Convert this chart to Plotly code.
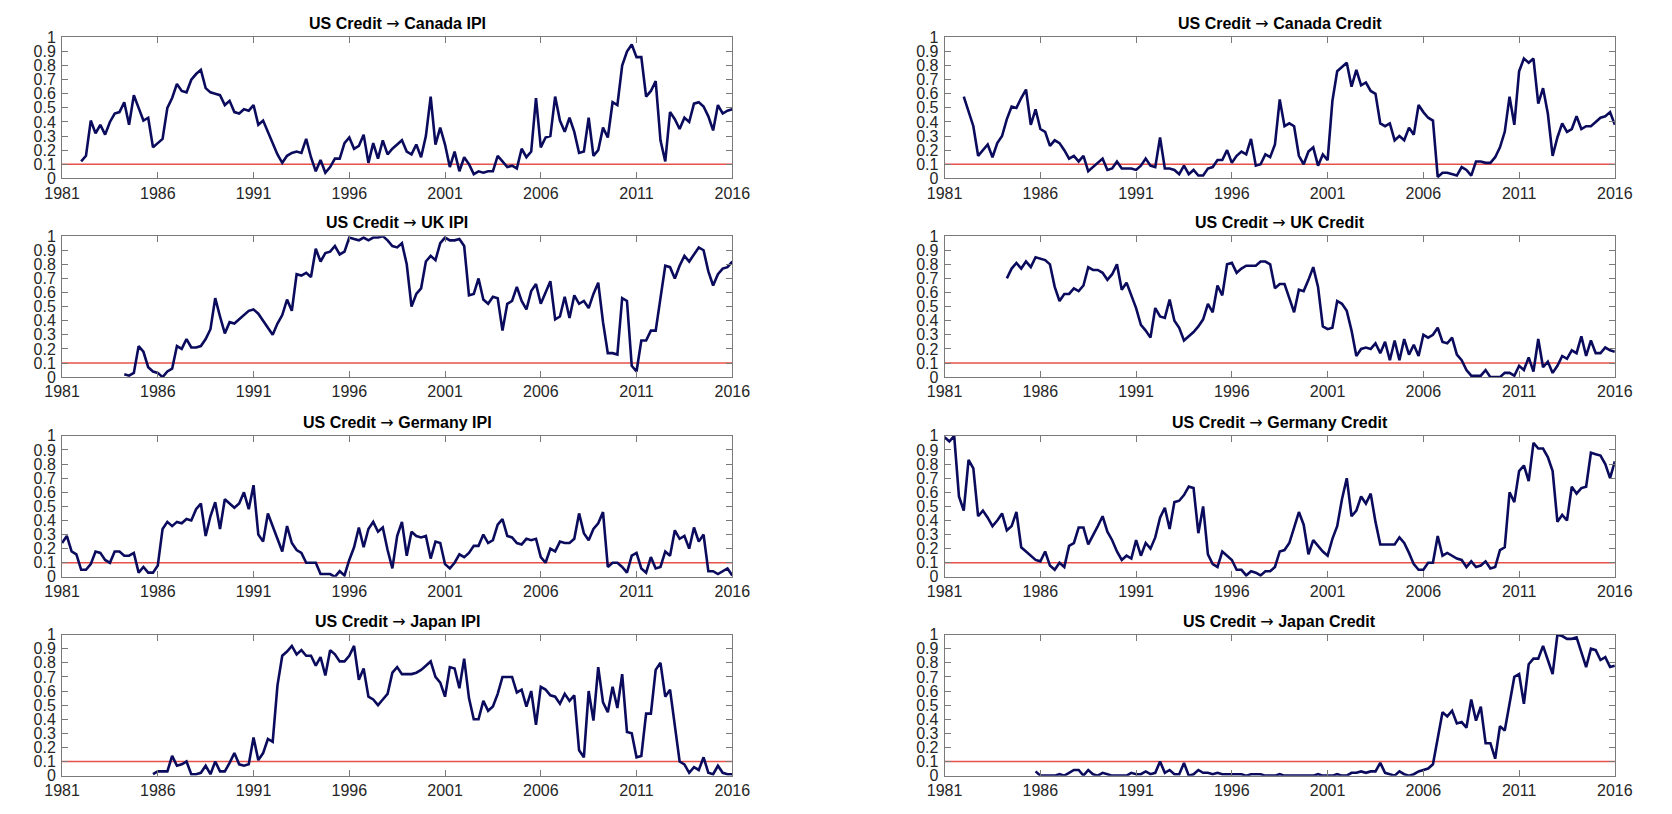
import plotly.graph_objects as go

# ---------------------------------------------------------------
# Quarterly probabilities, one row per calendar year
# ---------------------------------------------------------------
canada_ipi_start = 1982.0
canada_ipi = [
    0.12, 0.16, 0.41, 0.32,  # 1982
    0.38, 0.31, 0.40, 0.46,  # 1983
    0.47, 0.54, 0.38, 0.59,  # 1984
    0.50, 0.41, 0.43, 0.22,  # 1985
    0.25, 0.28, 0.50, 0.57,  # 1986
    0.67, 0.62, 0.61, 0.70,  # 1987
    0.74, 0.77, 0.64, 0.61,  # 1988
    0.60, 0.59, 0.52, 0.55,  # 1989
    0.47, 0.46, 0.49, 0.48,  # 1990
    0.52, 0.38, 0.41, 0.33,  # 1991
    0.25, 0.17, 0.11, 0.16,  # 1992
    0.18, 0.19, 0.18, 0.28,  # 1993
    0.15, 0.05, 0.13, 0.04,  # 1994
    0.08, 0.14, 0.14, 0.25,  # 1995
    0.29, 0.21, 0.23, 0.31,  # 1996
    0.11, 0.25, 0.14, 0.27,  # 1997
    0.17, 0.21, 0.24, 0.27,  # 1998
    0.19, 0.17, 0.24, 0.15,  # 1999
    0.30, 0.58, 0.24, 0.36,  # 2000
    0.24, 0.08, 0.19, 0.05,  # 2001
    0.15, 0.10, 0.03, 0.05,  # 2002
    0.04, 0.05, 0.05, 0.16,  # 2003
    0.12, 0.08, 0.09, 0.07,  # 2004
    0.21, 0.15, 0.19, 0.57,  # 2005
    0.22, 0.29, 0.30, 0.58,  # 2006
    0.41, 0.33, 0.43, 0.33,  # 2007
    0.18, 0.19, 0.43, 0.16,  # 2008
    0.20, 0.36, 0.29, 0.54,  # 2009
    0.52, 0.80, 0.90, 0.95,  # 2010
    0.86, 0.86, 0.58, 0.62,  # 2011
    0.69, 0.27, 0.12, 0.47,  # 2012
    0.42, 0.35, 0.43, 0.40,  # 2013
    0.53, 0.54, 0.51, 0.44,  # 2014
    0.34, 0.52, 0.46, 0.48,  # 2015
    0.49,                    # 2016
]

canada_credit_start = 1982.0
canada_credit = [
    0.58, 0.48, 0.37, 0.16,  # 1982
    0.20, 0.24, 0.15, 0.25,  # 1983
    0.30, 0.42, 0.51, 0.50,  # 1984
    0.57, 0.63, 0.38, 0.49,  # 1985
    0.35, 0.33, 0.23, 0.27,  # 1986
    0.25, 0.20, 0.14, 0.16,  # 1987
    0.12, 0.16, 0.05, 0.08,  # 1988
    0.11, 0.14, 0.06, 0.07,  # 1989
    0.12, 0.07, 0.07, 0.07,  # 1990
    0.06, 0.09, 0.14, 0.09,  # 1991
    0.08, 0.29, 0.07, 0.07,  # 1992
    0.06, 0.03, 0.09, 0.03,  # 1993
    0.06, 0.02, 0.02, 0.07,  # 1994
    0.08, 0.13, 0.13, 0.20,  # 1995
    0.11, 0.16, 0.19, 0.17,  # 1996
    0.28, 0.09, 0.10, 0.17,  # 1997
    0.15, 0.24, 0.56, 0.37,  # 1998
    0.39, 0.37, 0.16, 0.10,  # 1999
    0.19, 0.22, 0.09, 0.17,  # 2000
    0.13, 0.55, 0.76, 0.79,  # 2001
    0.82, 0.65, 0.77, 0.66,  # 2002
    0.68, 0.62, 0.60, 0.39,  # 2003
    0.37, 0.39, 0.27, 0.30,  # 2004
    0.27, 0.36, 0.31, 0.52,  # 2005
    0.47, 0.43, 0.41, 0.01,  # 2006
    0.04, 0.04, 0.03, 0.02,  # 2007
    0.08, 0.06, 0.02, 0.12,  # 2008
    0.12, 0.11, 0.11, 0.15,  # 2009
    0.22, 0.33, 0.58, 0.38,  # 2010
    0.76, 0.85, 0.82, 0.85,  # 2011
    0.53, 0.64, 0.46, 0.16,  # 2012
    0.29, 0.39, 0.33, 0.35,  # 2013
    0.44, 0.35, 0.37, 0.37,  # 2014
    0.40, 0.43, 0.44, 0.47,  # 2015
    0.38,                    # 2016
]

uk_ipi_start = 1984.25
uk_ipi = [
    0.02, 0.01, 0.03,        # 1984
    0.22, 0.18, 0.07, 0.04,  # 1985
    0.03, 0.00, 0.04, 0.06,  # 1986
    0.22, 0.20, 0.27, 0.21,  # 1987
    0.21, 0.22, 0.27, 0.34,  # 1988
    0.56, 0.43, 0.31, 0.39,  # 1989
    0.38, 0.41, 0.44, 0.47,  # 1990
    0.48, 0.45, 0.40, 0.35,  # 1991
    0.30, 0.38, 0.44, 0.55,  # 1992
    0.47, 0.73, 0.72, 0.74,  # 1993
    0.71, 0.91, 0.82, 0.88,  # 1994
    0.89, 0.93, 0.87, 0.89,  # 1995
    0.99, 0.98, 0.97, 0.99,  # 1996
    0.97, 0.99, 0.99, 1.00,  # 1997
    0.97, 0.93, 0.92, 0.95,  # 1998
    0.80, 0.50, 0.59, 0.63,  # 1999
    0.82, 0.86, 0.83, 0.95,  # 2000
    0.99, 0.97, 0.97, 0.98,  # 2001
    0.93, 0.58, 0.59, 0.70,  # 2002
    0.55, 0.52, 0.57, 0.56,  # 2003
    0.33, 0.52, 0.54, 0.64,  # 2004
    0.54, 0.48, 0.61, 0.66,  # 2005
    0.52, 0.60, 0.68, 0.41,  # 2006
    0.43, 0.57, 0.42, 0.58,  # 2007
    0.52, 0.54, 0.49, 0.59,  # 2008
    0.67, 0.39, 0.17, 0.17,  # 2009
    0.16, 0.56, 0.54, 0.08,  # 2010
    0.04, 0.26, 0.26, 0.33,  # 2011
    0.33, 0.56, 0.79, 0.78,  # 2012
    0.70, 0.79, 0.86, 0.82,  # 2013
    0.87, 0.92, 0.90, 0.75,  # 2014
    0.65, 0.73, 0.77, 0.78,  # 2015
    0.82,                    # 2016
]

uk_credit_start = 1984.25
uk_credit = [
    0.70, 0.77, 0.81,        # 1984
    0.77, 0.82, 0.78, 0.85,  # 1985
    0.84, 0.83, 0.80, 0.64,  # 1986
    0.54, 0.59, 0.59, 0.63,  # 1987
    0.61, 0.65, 0.78, 0.76,  # 1988
    0.76, 0.74, 0.69, 0.73,  # 1989
    0.80, 0.62, 0.67, 0.58,  # 1990
    0.49, 0.37, 0.33, 0.28,  # 1991
    0.49, 0.43, 0.42, 0.55,  # 1992
    0.40, 0.35, 0.26, 0.29,  # 1993
    0.32, 0.36, 0.41, 0.52,  # 1994
    0.46, 0.65, 0.58, 0.80,  # 1995
    0.81, 0.74, 0.77, 0.79,  # 1996
    0.79, 0.79, 0.82, 0.82,  # 1997
    0.80, 0.63, 0.66, 0.66,  # 1998
    0.56, 0.46, 0.62, 0.61,  # 1999
    0.69, 0.78, 0.64, 0.36,  # 2000
    0.34, 0.35, 0.54, 0.52,  # 2001
    0.47, 0.33, 0.15, 0.20,  # 2002
    0.21, 0.20, 0.24, 0.17,  # 2003
    0.25, 0.12, 0.26, 0.12,  # 2004
    0.27, 0.16, 0.23, 0.15,  # 2005
    0.30, 0.28, 0.30, 0.35,  # 2006
    0.25, 0.24, 0.28, 0.16,  # 2007
    0.12, 0.05, 0.01, 0.01,  # 2008
    0.01, 0.05, 0.00, 0.00,  # 2009
    0.00, 0.03, 0.03, 0.01,  # 2010
    0.08, 0.05, 0.14, 0.04,  # 2011
    0.27, 0.07, 0.11, 0.03,  # 2012
    0.08, 0.15, 0.13, 0.19,  # 2013
    0.17, 0.29, 0.15, 0.26,  # 2014
    0.17, 0.17, 0.21, 0.19,  # 2015
    0.18,                    # 2016
]

germany_ipi_start = 1981.0
germany_ipi = [
    0.24, 0.29, 0.18, 0.16,  # 1981
    0.05, 0.05, 0.09, 0.18,  # 1982
    0.17, 0.12, 0.10, 0.18,  # 1983
    0.18, 0.15, 0.15, 0.17,  # 1984
    0.03, 0.07, 0.03, 0.03,  # 1985
    0.08, 0.34, 0.39, 0.36,  # 1986
    0.39, 0.38, 0.41, 0.40,  # 1987
    0.48, 0.52, 0.29, 0.43,  # 1988
    0.53, 0.34, 0.55, 0.52,  # 1989
    0.49, 0.52, 0.60, 0.48,  # 1990
    0.65, 0.30, 0.25, 0.45,  # 1991
    0.36, 0.26, 0.18, 0.36,  # 1992
    0.24, 0.19, 0.17, 0.10,  # 1993
    0.10, 0.10, 0.02, 0.02,  # 1994
    0.02, 0.00, 0.04, 0.01,  # 1995
    0.12, 0.21, 0.35, 0.21,  # 1996
    0.34, 0.39, 0.32, 0.35,  # 1997
    0.19, 0.06, 0.29, 0.39,  # 1998
    0.15, 0.32, 0.29, 0.28,  # 1999
    0.29, 0.13, 0.25, 0.24,  # 2000
    0.09, 0.06, 0.10, 0.16,  # 2001
    0.14, 0.17, 0.22, 0.22,  # 2002
    0.30, 0.24, 0.26, 0.37,  # 2003
    0.41, 0.29, 0.28, 0.24,  # 2004
    0.23, 0.27, 0.26, 0.27,  # 2005
    0.14, 0.10, 0.20, 0.18,  # 2006
    0.25, 0.24, 0.24, 0.27,  # 2007
    0.45, 0.31, 0.26, 0.34,  # 2008
    0.38, 0.46, 0.07, 0.10,  # 2009
    0.10, 0.07, 0.03, 0.15,  # 2010
    0.17, 0.06, 0.03, 0.14,  # 2011
    0.06, 0.07, 0.18, 0.15,  # 2012
    0.33, 0.27, 0.29, 0.20,  # 2013
    0.35, 0.25, 0.30, 0.04,  # 2014
    0.04, 0.02, 0.04, 0.06,  # 2015
    0.01,                    # 2016
]

germany_credit_start = 1981.0
germany_credit = [
    0.99, 0.96, 1.00, 0.57,  # 1981
    0.47, 0.83, 0.77, 0.43,  # 1982
    0.47, 0.42, 0.36, 0.40,  # 1983
    0.45, 0.33, 0.36, 0.46,  # 1984
    0.21, 0.18, 0.15, 0.12,  # 1985
    0.11, 0.18, 0.08, 0.05,  # 1986
    0.10, 0.07, 0.22, 0.24,  # 1987
    0.35, 0.35, 0.23, 0.29,  # 1988
    0.36, 0.43, 0.32, 0.26,  # 1989
    0.18, 0.12, 0.15, 0.13,  # 1990
    0.26, 0.15, 0.24, 0.20,  # 1991
    0.28, 0.42, 0.49, 0.34,  # 1992
    0.53, 0.54, 0.58, 0.64,  # 1993
    0.63, 0.31, 0.50, 0.16,  # 1994
    0.09, 0.07, 0.18, 0.15,  # 1995
    0.12, 0.05, 0.05, 0.01,  # 1996
    0.04, 0.03, 0.01, 0.04,  # 1997
    0.04, 0.07, 0.18, 0.19,  # 1998
    0.24, 0.35, 0.46, 0.37,  # 1999
    0.16, 0.26, 0.22, 0.18,  # 2000
    0.15, 0.27, 0.36, 0.55,  # 2001
    0.70, 0.43, 0.47, 0.57,  # 2002
    0.52, 0.59, 0.39, 0.23,  # 2003
    0.23, 0.23, 0.23, 0.28,  # 2004
    0.24, 0.17, 0.09, 0.05,  # 2005
    0.05, 0.10, 0.10, 0.29,  # 2006
    0.15, 0.17, 0.15, 0.13,  # 2007
    0.12, 0.07, 0.11, 0.07,  # 2008
    0.08, 0.11, 0.06, 0.07,  # 2009
    0.19, 0.21, 0.60, 0.53,  # 2010
    0.75, 0.79, 0.68, 0.95,  # 2011
    0.91, 0.91, 0.85, 0.75,  # 2012
    0.39, 0.44, 0.40, 0.64,  # 2013
    0.59, 0.63, 0.64, 0.88,  # 2014
    0.87, 0.86, 0.80, 0.70,  # 2015
    0.82,                    # 2016
]

japan_ipi_start = 1985.75
japan_ipi = [
    0.01,                    # 1985
    0.03, 0.03, 0.03, 0.14,  # 1986
    0.07, 0.08, 0.10, 0.01,  # 1987
    0.01, 0.02, 0.07, 0.01,  # 1988
    0.10, 0.03, 0.03, 0.09,  # 1989
    0.16, 0.08, 0.07, 0.08,  # 1990
    0.27, 0.11, 0.16, 0.26,  # 1991
    0.24, 0.64, 0.85, 0.88,  # 1992
    0.92, 0.86, 0.89, 0.85,  # 1993
    0.85, 0.78, 0.84, 0.71,  # 1994
    0.89, 0.86, 0.81, 0.81,  # 1995
    0.85, 0.92, 0.68, 0.76,  # 1996
    0.56, 0.54, 0.50, 0.54,  # 1997
    0.58, 0.73, 0.77, 0.72,  # 1998
    0.72, 0.72, 0.73, 0.75,  # 1999
    0.78, 0.81, 0.70, 0.66,  # 2000
    0.56, 0.77, 0.76, 0.62,  # 2001
    0.83, 0.55, 0.40, 0.40,  # 2002
    0.53, 0.46, 0.49, 0.58,  # 2003
    0.70, 0.70, 0.70, 0.59,  # 2004
    0.61, 0.49, 0.60, 0.36,  # 2005
    0.63, 0.61, 0.57, 0.56,  # 2006
    0.51, 0.58, 0.53, 0.57,  # 2007
    0.18, 0.13, 0.60, 0.39,  # 2008
    0.77, 0.52, 0.45, 0.63,  # 2009
    0.48, 0.72, 0.31, 0.30,  # 2010
    0.13, 0.14, 0.44, 0.44,  # 2011
    0.75, 0.80, 0.56, 0.61,  # 2012
    0.37, 0.10, 0.08, 0.02,  # 2013
    0.06, 0.04, 0.13, 0.02,  # 2014
    0.01, 0.07, 0.02, 0.01,  # 2015
    0.01,                    # 2016
]

japan_credit_start = 1985.75
japan_credit = [
    0.03,                    # 1985
    0.00, 0.00, 0.00, 0.00,  # 1986
    0.01, 0.00, 0.02, 0.04,  # 1987
    0.04, 0.00, 0.04, 0.01,  # 1988
    0.00, 0.02, 0.01, 0.00,  # 1989
    0.00, 0.00, 0.00, 0.02,  # 1990
    0.01, 0.01, 0.03, 0.01,  # 1991
    0.02, 0.10, 0.02, 0.04,  # 1992
    0.01, 0.01, 0.09, 0.00,  # 1993
    0.01, 0.04, 0.02, 0.02,  # 1994
    0.01, 0.02, 0.01, 0.01,  # 1995
    0.01, 0.01, 0.01, 0.00,  # 1996
    0.01, 0.01, 0.01, 0.00,  # 1997
    0.00, 0.00, 0.01, 0.00,  # 1998
    0.00, 0.00, 0.00, 0.00,  # 1999
    0.00, 0.00, 0.01, 0.00,  # 2000
    0.00, 0.00, 0.01, 0.00,  # 2001
    0.00, 0.02, 0.02, 0.03,  # 2002
    0.02, 0.03, 0.03, 0.09,  # 2003
    0.02, 0.01, 0.00, 0.03,  # 2004
    0.01, 0.00, 0.01, 0.03,  # 2005
    0.04, 0.05, 0.08, 0.27,  # 2006
    0.45, 0.42, 0.46, 0.37,  # 2007
    0.38, 0.34, 0.54, 0.39,  # 2008
    0.49, 0.23, 0.23, 0.12,  # 2009
    0.35, 0.32, 0.51, 0.70,  # 2010
    0.72, 0.51, 0.79, 0.83,  # 2011
    0.83, 0.92, 0.82, 0.72,  # 2012
    1.00, 0.99, 0.97, 0.97,  # 2013
    0.98, 0.87, 0.77, 0.90,  # 2014
    0.89, 0.82, 0.84, 0.77,  # 2015
    0.78,                    # 2016
]

source_name = "US Credit"
panel_targets = [
    "Canada IPI", "Canada Credit",
    "UK IPI", "UK Credit",
    "Germany IPI", "Germany Credit",
    "Japan IPI", "Japan Credit",
]
panel_series = [
    (canada_ipi_start, canada_ipi), (canada_credit_start, canada_credit),
    (uk_ipi_start, uk_ipi), (uk_credit_start, uk_credit),
    (germany_ipi_start, germany_ipi), (germany_credit_start, germany_credit),
    (japan_ipi_start, japan_ipi), (japan_credit_start, japan_credit),
]

threshold = 0.1
x_start, x_end = 1981, 2016
x_ticks = [1981, 1986, 1991, 1996, 2001, 2006, 2011, 2016]
y_ticks = [0, 0.1, 0.2, 0.3, 0.4, 0.5, 0.6, 0.7, 0.8, 0.9, 1]
y_tick_text = ["0", "0.1", "0.2", "0.3", "0.4", "0.5", "0.6", "0.7", "0.8", "0.9", "1"]

# ---------------------------------------------------------------
# Layout geometry (pixels on a 1672 x 814 page)
# ---------------------------------------------------------------
W, H = 1672, 814
col_px = [(45, 730), (947, 1632)]
row_px = [(30, 174), (233, 377), (437, 581), (640, 784)]

LINE_COLOR = "#0b0b5e"
REF_COLOR = "#e8504a"
AXIS_COLOR = "#7a7a7a"
FONT = "Liberation Sans, Arial, Helvetica, sans-serif"
ARROW_FONT = "DejaVu Sans"

fig = go.Figure()
annotations = []

for k, (target, (start, values)) in enumerate(zip(panel_targets, panel_series)):
    r, c = divmod(k, 2)
    idx = k + 1
    xa = "x" if idx == 1 else f"x{idx}"
    ya = "y" if idx == 1 else f"y{idx}"
    dates = [start + 0.25 * i for i in range(len(values))]

    fig.add_trace(go.Scatter(
        x=[x_start, x_end], y=[threshold, threshold], mode="lines",
        line=dict(color=REF_COLOR, width=1.5), xaxis=xa, yaxis=ya,
        showlegend=False, hoverinfo="skip"))
    fig.add_trace(go.Scatter(
        x=dates, y=values, mode="lines",
        line=dict(color=LINE_COLOR, width=2.6), xaxis=xa, yaxis=ya,
        showlegend=False, name=f"{source_name} \u2192 {target}"))

    x0, x1 = col_px[c]
    top, bot = row_px[r]
    xdom = [x0 / W, x1 / W]
    ydom = [1 - bot / H, 1 - top / H]

    common = dict(showline=True, linecolor=AXIS_COLOR, linewidth=1,
                  mirror="ticks", ticks="inside", ticklen=6, tickwidth=1,
                  tickcolor=AXIS_COLOR, showgrid=False, zeroline=False,
                  tickfont=dict(family=FONT, size=16, color="#262626"),
                  fixedrange=True)
    fig.layout[("xaxis" if idx == 1 else f"xaxis{idx}")] = dict(
        domain=xdom, range=[x_start, x_end], tickvals=x_ticks,
        ticktext=[str(t) for t in x_ticks], anchor=ya, **common)
    fig.layout[("yaxis" if idx == 1 else f"yaxis{idx}")] = dict(
        domain=ydom, range=[0, 1], tickvals=y_ticks, ticktext=y_tick_text,
        anchor=xa, ticklabelstandoff=2, **common)

    title_html = (f"<b>{source_name} </b>"
                  f"<span style='font-family:{ARROW_FONT}'>\u2192</span>"
                  f"<b> {target}</b>")
    annotations.append(dict(
        text=title_html, x=(xdom[0] + xdom[1]) / 2, y=ydom[1],
        xref="paper", yref="paper", xanchor="center", yanchor="bottom",
        yshift=2, showarrow=False,
        font=dict(family=FONT, size=16, color="#000000")))

fig.update_layout(
    width=W, height=H, margin=dict(l=0, r=0, t=0, b=0),
    paper_bgcolor="white", plot_bgcolor="white",
    annotations=annotations, showlegend=False)

fig.write_html("out.html")
